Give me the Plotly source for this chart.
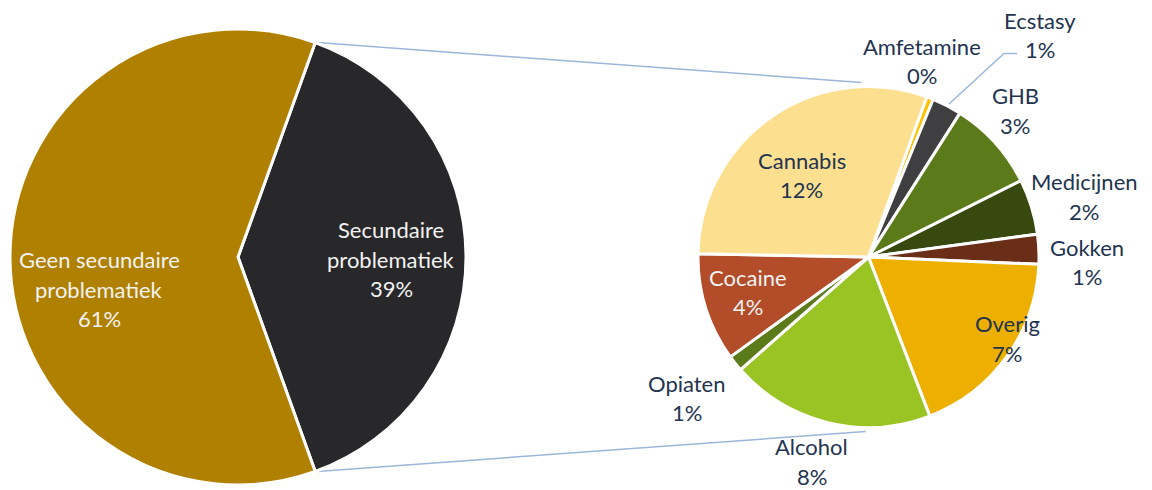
import math
import plotly.graph_objects as go

W, H = 1152, 490

# ---- data ----
main_labels = ["Secundaire problematiek", "Geen secundaire problematiek"]
main_values = [39, 61]
main_colors = ["#28282A", "#B08000"]

sub_labels = ["Amfetamine", "Ecstasy", "GHB", "Medicijnen", "Gokken",
              "Overig", "Alcohol", "Opiaten", "Cocaine", "Cannabis"]
sub_values = [0.25, 1.1, 3.35, 2.05, 1.1, 7.2, 7.55, 0.6, 4.0, 11.8]
sub_pct_text = ["0%", "1%", "3%", "2%", "1%", "7%", "8%", "1%", "4%", "12%"]
sub_colors = ["#FFC000", "#3F3F41", "#5B7B1A", "#38490F", "#6A2D18",
              "#EDB000", "#99C424", "#5B7B1A", "#B34C28", "#FCE08F"]

# ---- geometry (pixels) ----
L_CX, L_CY, L_R = 238, 257, 228
R_CX, R_CY, R_R = 868.5, 257, 170.5
L_ROT = 90 - main_values[0] / sum(main_values) * 360 / 2
R_ROT = 20


def px(x):
    return x / W


def py(y):
    return 1 - y / H


fig = go.Figure()
fig.add_trace(go.Pie(
    labels=main_labels, values=main_values, sort=False, direction="clockwise",
    rotation=L_ROT, marker=dict(colors=main_colors, line=dict(color="white", width=3)),
    textinfo="none", hoverinfo="label+percent", showlegend=False,
    domain=dict(x=[px(L_CX - L_R), px(L_CX + L_R)], y=[py(L_CY + L_R), py(L_CY - L_R)]),
))
fig.add_trace(go.Pie(
    labels=sub_labels, values=sub_values, sort=False, direction="clockwise",
    rotation=R_ROT, marker=dict(colors=sub_colors, line=dict(color="white", width=3)),
    textinfo="none", hoverinfo="label", showlegend=False,
    domain=dict(x=[px(R_CX - R_R), px(R_CX + R_R)], y=[py(R_CY + R_R), py(R_CY - R_R)]),
))

DARK = "#22344F"
LIGHT = "#F2F2F2"
FONT = "Lato"
FS = 22
LH = 29.5

# label blocks: (lines, center_x, center_y, color)
blocks = [
    (["Geen secundaire", "problematiek", "61%"], 99, 289, LIGHT),
    (["Secundaire", "problematiek", "39%"], 391, 259, LIGHT),
]
sub_pos = {
    "Amfetamine": (921.5, 61, DARK),
    "Ecstasy": (1040, 35, DARK),
    "GHB": (1015, 110.5, DARK),
    "Medicijnen": (1084, 196.5, DARK),
    "Gokken": (1087, 262, DARK),
    "Overig": (1007, 338.5, DARK),
    "Alcohol": (811.5, 461.5, DARK),
    "Opiaten": (686.5, 398, DARK),
    "Cocaine": (748, 292, LIGHT),
    "Cannabis": (801.5, 175, DARK),
}
for lab, pct in zip(sub_labels, sub_pct_text):
    x, y, c = sub_pos[lab]
    blocks.append(([lab, pct], x, y, c))

annotations = []
for lines, cx, cy, col in blocks:
    n = len(lines)
    for i, t in enumerate(lines):
        yy = cy + (i - (n - 1) / 2) * LH
        annotations.append(dict(
            text=t, x=px(cx), y=py(yy), xref="paper", yref="paper",
            xanchor="center", yanchor="middle", showarrow=False,
            font=dict(family=FONT, size=FS, color=col),
        ))

# connector lines between the two pies
top_edge = (L_CX + L_R * math.sin(math.radians(L_ROT)), L_CY - L_R * math.cos(math.radians(L_ROT)))
bot_edge = (top_edge[0], 2 * L_CY - top_edge[1])
LINE_COL = "#9BB7DA"
shapes = [
    dict(type="line", xref="paper", yref="paper",
         x0=px(top_edge[0] + 2), y0=py(top_edge[1]), x1=px(R_CX - 7), y1=py(R_CY - R_R - 4),
         line=dict(color=LINE_COL, width=1.5), layer="below"),
    dict(type="line", xref="paper", yref="paper",
         x0=px(bot_edge[0] + 2), y0=py(bot_edge[1]), x1=px(R_CX - 3), y1=py(R_CY + R_R + 4),
         line=dict(color=LINE_COL, width=1.5), layer="below"),
    dict(type="path", xref="paper", yref="paper",
         path=f"M {px(1017)} {py(53.5)} L {px(1004)} {py(53.5)} L {px(949)} {py(104)}",
         line=dict(color=LINE_COL, width=1.5), layer="above"),
]

fig.update_layout(
    width=W, height=H, margin=dict(l=0, r=0, t=0, b=0),
    paper_bgcolor="white", plot_bgcolor="white",
    annotations=annotations, shapes=shapes,
    font=dict(family=FONT),
)
fig.write_html(
    "out.html",
    config={"displayModeBar": False},
    post_script="document.body.style.margin='0';document.body.style.overflow='hidden';",
)
